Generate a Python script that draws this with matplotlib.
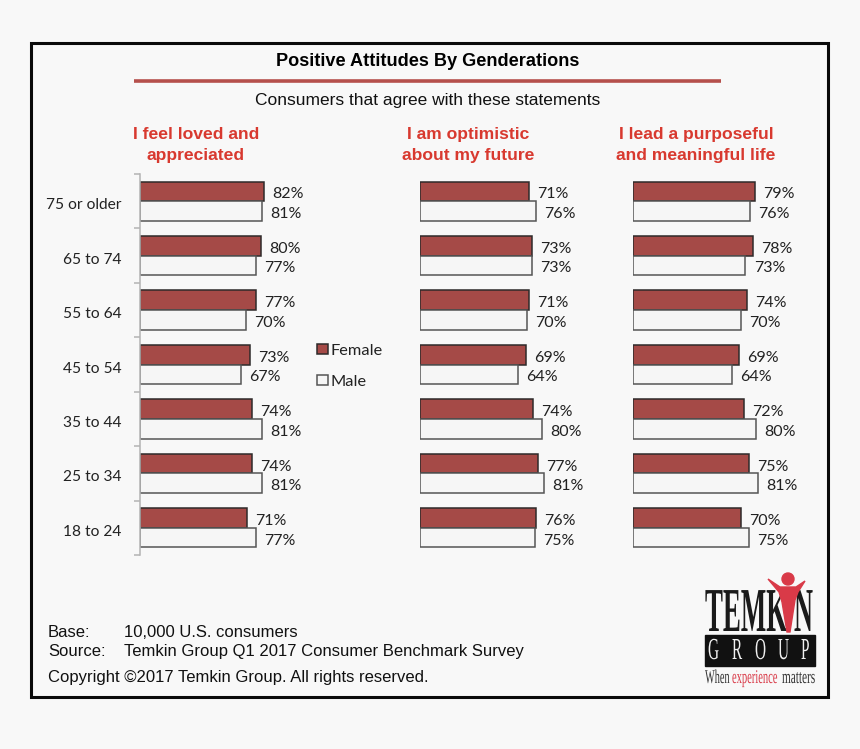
"""
Positive attitudes by generation, three panels of paired bars.
"""
import matplotlib
matplotlib.use('Agg')
import matplotlib.pyplot as plt
from matplotlib.patches import Circle, Polygon, Rectangle
from matplotlib.patheffects import AbstractPathEffect
from matplotlib.transforms import Affine2D

AGES = ['75 or older', '65 to 74', '55 to 64', '45 to 54',
        '35 to 44', '25 to 34', '18 to 24']
LOVED_FEMALE = [82, 80, 77, 73, 74, 74, 71]
LOVED_MALE = [81, 77, 70, 67, 81, 81, 77]
OPTIMISTIC_FEMALE = [71, 73, 71, 69, 74, 77, 76]
OPTIMISTIC_MALE = [76, 73, 70, 64, 80, 81, 75]
PURPOSE_FEMALE = [79, 78, 74, 69, 72, 75, 70]
PURPOSE_MALE = [76, 73, 70, 64, 80, 81, 75]

WIDTH, HEIGHT = 860, 749
BACK = '#f8f8f8'
BRICK = '#a54a47'
RED = '#d8392f'
LOGO_RED = '#d93a48'
SANS = 'Liberation Sans'
SERIF = 'Liberation Serif'
BODY = 'Lato'


class Squeeze(AbstractPathEffect):
    # narrow a text horizontally about its anchor, for the condensed logo type
    def __init__(self, factor):
        super().__init__()
        self.factor = factor

    def draw_path(self, renderer, gc, tpath, affine, rgbFace=None):
        x0 = affine.get_matrix()[0, 2]
        squeezed = affine + Affine2D().translate(-x0, 0).scale(self.factor, 1).translate(x0, 0)
        renderer.draw_path(gc, tpath, squeezed, rgbFace)


def panel(figure, left, width, female, male, with_axis=False):
    top, bottom = 174, 555
    axes = figure.add_axes([left / WIDTH, 1 - bottom / HEIGHT,
                            width / WIDTH, (bottom - top) / HEIGHT])
    axes.patch.set_visible(False)
    rows = range(len(female))
    thick = 0.36
    upper = axes.barh([r - thick / 2 for r in rows], female, thick,
                      color=BRICK, edgecolor='#2e2a2a', linewidth=1.1)
    lower = axes.barh([r + thick / 2 for r in rows], male, thick,
                      color='#f6f6f6', edgecolor='#555555', linewidth=1.1)
    for bars in (upper, lower):
        labels = axes.bar_label(bars, fmt='%d%%', padding=6, fontsize=11.5,
                                family=BODY, color='#222222')
        for label in labels:
            label.xyann = (6, -2.2)
    axes.set_xlim(0, 100)
    axes.set_ylim(len(female) - 0.5, -0.5)
    axes.xaxis.set_visible(False)
    for side in ('top', 'right', 'bottom', 'left'):
        axes.spines[side].set_visible(False)
    if with_axis:
        axes.spines['left'].set_visible(True)
        axes.spines['left'].set_color('#b4b4b4')
        axes.spines['left'].set_linewidth(1.1)
        axes.set_yticks(list(rows), AGES, fontsize=11.2, family=BODY, color='#222222')
        axes.set_yticks([r - 0.5 for r in range(len(female) + 1)], minor=True)
        axes.tick_params(axis='y', which='major', length=0, pad=13.5)
        axes.tick_params(axis='y', which='minor', length=4, color='#b4b4b4', width=1.1)
        for label in axes.get_yticklabels():
            label.set_transform(label.get_transform() + Affine2D().translate(0, -2.5))
    else:
        axes.yaxis.set_visible(False)
    return axes


def draw_logo(page):
    page.text(705, 631, 'TEMK', family=SERIF, weight='bold', fontsize=45,
              color='#1a1a1a', va='baseline', ha='left', path_effects=[Squeeze(0.43)])
    page.text(794, 631, 'N', family=SERIF, weight='bold', fontsize=45,
              color='#1a1a1a', va='baseline', ha='left', path_effects=[Squeeze(0.42)])
    # figure standing in for the I
    page.add_patch(Circle((788, 579), 6, color=LOGO_RED, zorder=3))
    page.add_patch(Polygon([(768, 579), (780, 587), (796, 587), (805, 581),
                            (798, 592), (795, 600), (790, 632), (787, 632),
                            (782, 602), (779, 592)],
                           closed=True, color=LOGO_RED, zorder=3))
    page.add_patch(Rectangle((705, 635), 110, 31, color='#111111'))
    for x, letter in zip([708, 732, 755, 778, 801], 'GROUP'):
        page.text(x, 659, letter, family=SERIF, fontsize=22, color='#f0f0f0',
                  ha='left', va='baseline', path_effects=[Squeeze(0.5)])
    for x, word, colour, factor in [(705, 'When', '#333333', 0.53),
                                    (732, 'experience', LOGO_RED, 0.54),
                                    (782, 'matters', '#333333', 0.58)]:
        page.text(x, 683, word, family=SERIF, fontsize=14, color=colour,
                  va='baseline', ha='left', path_effects=[Squeeze(factor)])


figure = plt.figure(figsize=(WIDTH / 100, HEIGHT / 100), dpi=100, facecolor=BACK)

# page layer in pixel coordinates for the frame, headings and footer
page = figure.add_axes([0, 0, 1, 1])
page.set_xlim(0, WIDTH)
page.set_ylim(HEIGHT, 0)
page.axis('off')

page.add_patch(Rectangle((31, 43), 797, 654, fill=False, edgecolor='#0a0a0a', linewidth=2.2))
page.plot([134, 721], [81, 81], color='#b5504c', linewidth=2.6, solid_capstyle='butt')
page.text(428, 61.5, 'Positive Attitudes By Genderations', family=SANS, weight='bold',
          fontsize=13.1, ha='center', va='center', color='#000000')
page.text(428, 100, 'Consumers that agree with these statements', family=SANS,
          fontsize=12.5, ha='center', va='center', color='#111111')

for x, text in [(196, 'I feel loved and\nappreciated'),
                (468, 'I am optimistic\nabout my future'),
                (696, 'I lead a purposeful\nand meaningful life')]:
    page.text(x, 145, text, family=SANS, weight='bold', fontsize=12.6, color=RED,
              ha='center', va='center', linespacing=1.45)

page.add_patch(Rectangle((317, 344), 11, 10, facecolor=BRICK, edgecolor='#2e2a2a', linewidth=1.1))
page.add_patch(Rectangle((317, 375), 11, 10, facecolor='#f6f6f6', edgecolor='#555555', linewidth=1.1))
page.text(331, 351, 'Female', family=BODY, fontsize=11.8, va='center', color='#222222')
page.text(331, 382, 'Male', family=BODY, fontsize=11.8, va='center', color='#222222')

page.text(48, 637, 'Base:', family=SANS, fontsize=12, va='baseline', color='#111111')
page.text(124, 637, '10,000 U.S. consumers', family=SANS, fontsize=12, va='baseline', color='#111111')
page.text(48, 656, 'Source:', family=SANS, fontsize=12, va='baseline', color='#111111')
page.text(124, 656, 'Temkin Group Q1 2017 Consumer Benchmark Survey', family=SANS,
          fontsize=12, va='baseline', color='#111111')
page.text(48, 682, 'Copyright ©2017 Temkin Group. All rights reserved.', family=SANS,
          fontsize=12, va='baseline', color='#111111')
draw_logo(page)

panel(figure, 140, 151, LOVED_FEMALE, LOVED_MALE, with_axis=True)
panel(figure, 420, 153, OPTIMISTIC_FEMALE, OPTIMISTIC_MALE)
panel(figure, 633, 154, PURPOSE_FEMALE, PURPOSE_MALE)

figure.savefig('out.png', dpi=100, facecolor=BACK)
